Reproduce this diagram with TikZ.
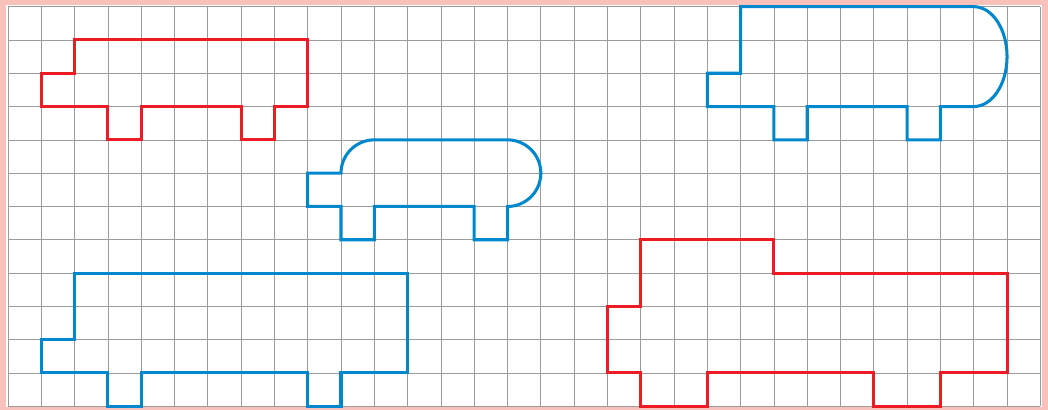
\documentclass[tikz,border=0pt]{standalone}
\usepackage{xcolor}
\usepackage{tikz}
\usetikzlibrary{calc}

\definecolor{shapered}{RGB}{237,28,36}
\definecolor{shapeblue}{RGB}{0,136,207}
\definecolor{framepink}{RGB}{248,194,186}
\definecolor{gridgray}{RGB}{155,155,155}

\begin{document}
\begin{tikzpicture}[
  gridline/.style={gridgray, line width=0.6pt},
  redshape/.style={shapered, line width=2.6pt},
  blueshape/.style={shapeblue, line width=2.6pt}]
% Frame and background
\useasboundingbox (-0.24,-0.11) rectangle (31.23,12.20);
\fill[framepink] (-0.24,-0.11) rectangle (31.23,12.20);
\fill[white] (-0.06,-0.01) rectangle (31.05,12.05);

% Grid
\draw[gridline] (0,0) grid (31,12);

% Red shape, top left
\draw[redshape] (2,11) -- (9,11) -- (9,9) -- (8,9) -- (8,8) -- (7,8) -- (7,9)
  -- (4,9) -- (4,8) -- (3,8) -- (3,9) -- (1,9) -- (1,10) -- (2,10) -- cycle;

% Blue shape, top right (round end)
\draw[blueshape] (22,12) -- (29,12)
  arc[start angle=90, end angle=-90, x radius=1, y radius=1.5] -- (28,9) -- (28,8) -- (27,8)
  -- (27,9) -- (24,9) -- (24,8) -- (23,8) -- (23,9) -- (21,9) -- (21,10) -- (22,10) -- cycle;

% Blue shape, middle (rounded)
\draw[blueshape] (9,7) -- (10,7) arc (180:90:1) -- (15,8) arc (90:-90:1) -- (15,5)
  -- (14,5) -- (14,6) -- (11,6) -- (11,5) -- (10,5) -- (10,6) -- (9,6) -- cycle;

% Blue shape, bottom left
\draw[blueshape] (2,4) -- (12,4) -- (12,1) -- (10,1) -- (10,0) -- (9,0) -- (9,1)
  -- (4,1) -- (4,0) -- (3,0) -- (3,1) -- (1,1) -- (1,2) -- (2,2) -- cycle;

% Red shape, bottom right
\draw[redshape] (19,5) -- (23,5) -- (23,4) -- (30,4) -- (30,1) -- (28,1) -- (28,0)
  -- (26,0) -- (26,1) -- (21,1) -- (21,0) -- (19,0) -- (19,1) -- (18,1) -- (18,3)
  -- (19,3) -- cycle;
\end{tikzpicture}
\end{document}
